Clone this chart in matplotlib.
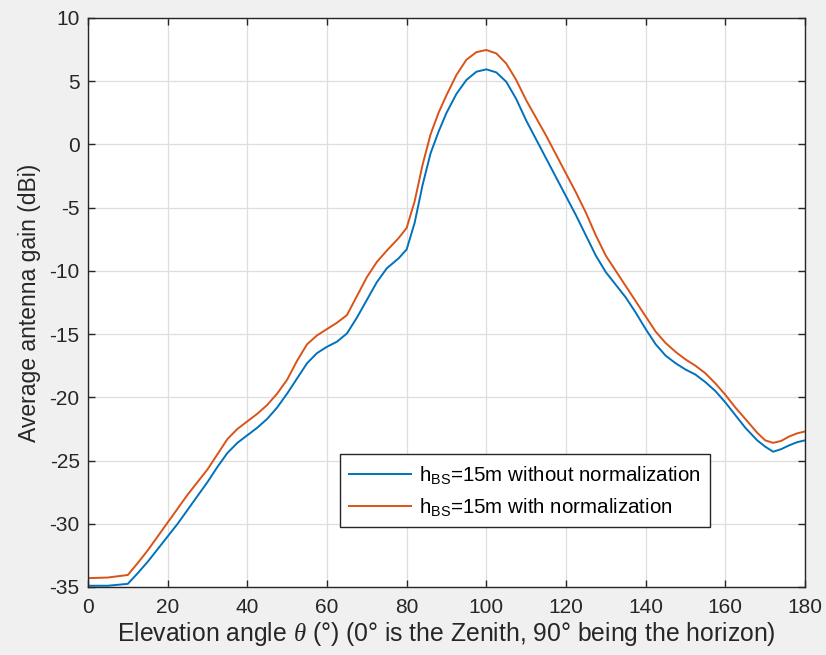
import matplotlib
matplotlib.use('Agg')
import matplotlib.pyplot as plt

# (deg, dBi)
theta = [0, 5, 10, 12.5, 15, 17.5, 20, 22.5, 25, 27.5, 30, 32.5, 35, 37.5, 40, 42.5,
         45, 47.5, 50, 52.5, 55, 57.5, 60, 62.5, 65, 67.5, 70, 72.5, 75, 78, 80, 82,
         84, 86, 88, 90, 92.5, 95, 97.5, 100, 102.5, 105, 107.5, 110, 112.5, 115,
         117.5, 120, 122.5, 125, 127.5, 130, 132.5, 135, 137.5, 140, 142.5, 145,
         147.5, 150, 152.5, 155, 157.5, 160, 162.5, 165, 168, 170, 172, 174, 176,
         178, 180]
gain_raw = [-34.9, -34.9, -34.75, -33.9, -33.0, -32.0, -31.0, -30.0, -28.9, -27.8,
            -26.7, -25.5, -24.4, -23.6, -23.0, -22.4, -21.7, -20.8, -19.7, -18.5,
            -17.3, -16.5, -16.0, -15.6, -14.95, -13.7, -12.3, -10.9, -9.8, -9.0,
            -8.3, -6.2, -3.2, -0.7, 1.0, 2.5, 4.0, 5.1, 5.75, 5.94, 5.7, 4.96, 3.6,
            1.9, 0.4, -1.1, -2.6, -4.1, -5.6, -7.2, -8.8, -10.1, -11.1, -12.1,
            -13.3, -14.6, -15.8, -16.7, -17.3, -17.8, -18.2, -18.8, -19.5, -20.4,
            -21.4, -22.4, -23.4, -23.9, -24.3, -24.1, -23.8, -23.55, -23.4]
gain_norm = [-34.3, -34.25, -34.05, -33.1, -32.1, -31.0, -29.9, -28.8, -27.7, -26.7,
             -25.7, -24.5, -23.3, -22.5, -21.9, -21.3, -20.6, -19.7, -18.6, -17.1,
             -15.8, -15.1, -14.6, -14.1, -13.5, -12.0, -10.5, -9.3, -8.4, -7.4,
             -6.6, -4.5, -1.6, 0.8, 2.5, 3.9, 5.5, 6.7, 7.3, 7.47, 7.2, 6.4, 5.1,
             3.5, 2.1, 0.7, -0.8, -2.3, -3.8, -5.4, -7.2, -8.8, -10.0, -11.2,
             -12.4, -13.6, -14.8, -15.7, -16.4, -17.0, -17.5, -18.1, -18.9, -19.8,
             -20.8, -21.7, -22.8, -23.4, -23.6, -23.45, -23.1, -22.85, -22.7]
labels = [r'h$_{\mathrm{BS}}$=15m without normalization',
          r'h$_{\mathrm{BS}}$=15m with normalization']

plt.rcParams['font.family'] = ['Liberation Sans', 'DejaVu Sans']
plt.rcParams['mathtext.fontset'] = 'custom'
plt.rcParams['mathtext.rm'] = 'Liberation Sans'
plt.rcParams['mathtext.it'] = 'Liberation Serif:italic'
plt.rcParams['axes.unicode_minus'] = False

fig = plt.figure(figsize=(8.26, 6.55), dpi=100, facecolor='#f0f0f0')
ax = fig.add_axes([88/826, 1 - 587/655, 717/826, 569/655])

ax.plot(theta, gain_raw, color='#0072BD', lw=1.4, label=labels[0], solid_joinstyle='round')
ax.plot(theta, gain_norm, color='#D95319', lw=1.4, label=labels[1], solid_joinstyle='round')

ax.set_xlim(0, 180)
ax.set_ylim(-35, 10)
ax.set_xticks(range(0, 181, 20))
ax.set_yticks(range(-35, 11, 5))
ax.grid(True, color='#dedede', lw=0.9)
ax.set_axisbelow(True)
ax.tick_params(direction='in', length=5, width=1, colors='#262626',
               top=True, right=True, labelsize=15)
ax.tick_params(axis='x', pad=8)
ax.tick_params(axis='y', pad=6)
for s in ax.spines.values():
    s.set_color('#262626')
    s.set_linewidth(1.0)

ax.set_xlabel(r'Elevation angle $\theta$ (°) (0° is the Zenith, 90° being the horizon)',
              fontsize=17.8, color='#262626', labelpad=2)
ax.set_ylabel('Average antenna gain (dBi)', fontsize=16.5, color='#262626', labelpad=6)

leg = ax.legend(loc='lower left', bbox_to_anchor=(0.351, 0.105), borderaxespad=0,
                fontsize=14.8, fancybox=False, edgecolor='#262626', framealpha=1,
                handlelength=3.0, handletextpad=0.4, borderpad=0.45, labelspacing=0.5)
leg.get_frame().set_linewidth(1.0)

fig.savefig('out.png', dpi=100, facecolor=fig.get_facecolor())
